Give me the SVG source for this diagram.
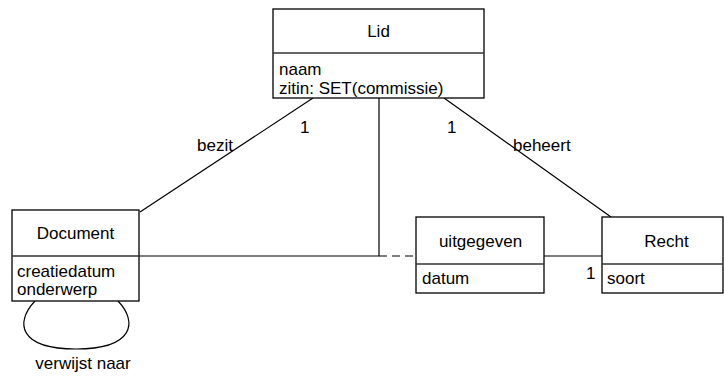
<svg xmlns="http://www.w3.org/2000/svg" width="724" height="377" viewBox="0 0 724 377">
<style>
.box{fill:#fff;stroke:#000;stroke-width:1.3}
.sep{stroke:#333;stroke-width:1.3}
.ln{fill:none;stroke:#000;stroke-width:1.2}
.dash{fill:none;stroke:#000;stroke-width:1.2;stroke-dasharray:8,5}
text{font-family:"Liberation Sans",Arial,sans-serif;font-size:17px;fill:#000}
.c{text-anchor:middle}
</style>
<rect width="724" height="377" fill="#fff"/>
<g id="connectors">
<line class="ln" x1="313" y1="98" x2="140" y2="212"/>
<line class="ln" x1="444" y1="98" x2="611" y2="217"/>
<polyline class="ln" points="379,98 379,256 139,256"/>
<line class="dash" x1="379" y1="256" x2="416" y2="256"/>
<line class="ln" x1="544" y1="256" x2="602" y2="256"/>
<path class="ln" d="M35,301 C15,322 18,349 76,349 C134,349 138,322 118,301"/>
<text x="197" y="151">bezit</text>
<text x="300" y="133">1</text>
<text x="447" y="133">1</text>
<text x="513" y="151">beheert</text>
<text x="586" y="279">1</text>
<text x="83" y="369" class="c">verwijst naar</text>
</g>
<g id="Lid">
<rect class="box" x="273" y="9" width="211" height="89"/>
<line class="sep" x1="273" y1="53" x2="484" y2="53"/>
<text x="378.5" y="37" class="c">Lid</text>
<text x="279" y="75">naam</text>
<text x="279" y="94">zitin: SET(commissie)</text>
</g>
<g id="Document">
<rect class="box" x="12" y="210" width="127" height="91"/>
<line class="sep" x1="12" y1="256" x2="139" y2="256"/>
<text x="75.5" y="239" class="c">Document</text>
<text x="17" y="277">creatiedatum</text>
<text x="17" y="295">onderwerp</text>
</g>
<g id="uitgegeven">
<rect class="box" x="416" y="217" width="128" height="76"/>
<line class="sep" x1="416" y1="264" x2="544" y2="264"/>
<text x="480.5" y="247" class="c">uitgegeven</text>
<text x="422" y="284">datum</text>
</g>
<g id="Recht">
<rect class="box" x="602" y="217" width="121" height="76"/>
<line class="sep" x1="602" y1="264" x2="723" y2="264"/>
<text x="666.5" y="247" class="c">Recht</text>
<text x="607" y="284">soort</text>
</g>
</svg>
